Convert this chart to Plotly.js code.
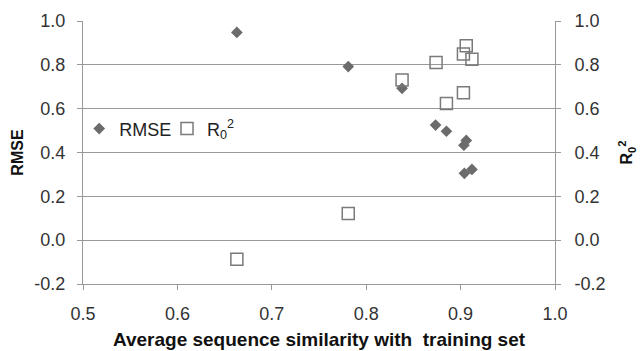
<!DOCTYPE html>
<html>
<head>
<meta charset="utf-8">
<script src="https://cdn.plot.ly/plotly-3.0.1.min.js"></script>
<style>html,body{margin:0;padding:0;background:#fff;}#chart{width:640px;height:351px;}</style>
</head>
<body>
<div id="chart"></div>
<script>
const similarity = [0.663, 0.781, 0.838, 0.8735, 0.885, 0.906, 0.9035, 0.904, 0.912];
const rmse = [0.948, 0.792, 0.693, 0.525, 0.497, 0.455, 0.433, 0.305, 0.323];
const similarityR0 = [0.663, 0.781, 0.838, 0.874, 0.885, 0.903, 0.906, 0.903, 0.912];
const r0sq = [-0.087, 0.122, 0.731, 0.811, 0.624, 0.673, 0.887, 0.849, 0.825];
const yTicks = [-0.2, 0.0, 0.2, 0.4, 0.6, 0.8, 1.0];
const xTicks = [0.5, 0.6, 0.7, 0.8, 0.9, 1.0];

const fam = 'Liberation Sans, Arial, sans-serif';
const tickFont = {family: fam, size: 18, color: '#333333'};
const gray = '#999999';

const traces = [
  {x: similarity, y: rmse, name: 'RMSE', type: 'scatter', mode: 'markers',
   marker: {symbol: 'diamond', size: 9, color: '#6b6b6b'}, yaxis: 'y', legend: 'legend'},
  {x: similarityR0, y: r0sq, name: 'R<sub>0</sub><sup>2</sup>', type: 'scatter', mode: 'markers',
   marker: {symbol: 'square-open', size: 12, color: '#7a7a7a', line: {width: 1.5}}, yaxis: 'y2', legend: 'legend2'}
];

const legendBase = {orientation: 'h', y: 0.59, xanchor: 'left', yanchor: 'middle',
  bgcolor: 'rgba(0,0,0,0)', font: {family: fam, size: 18, color: '#222222'}};

const layout = {
  width: 640, height: 351,
  margin: {l: 83, r: 85, t: 21, b: 67},
  paper_bgcolor: '#fff', plot_bgcolor: '#fff',
  font: {family: fam, size: 18, color: '#222222'},
  showlegend: true,
  legend: Object.assign({x: -0.008}, legendBase),
  legend2: Object.assign({x: 0.178}, legendBase),
  xaxis: {range: [0.5, 1.0], tickvals: xTicks, ticktext: xTicks.map(v => v.toFixed(1)),
          showgrid: false, zeroline: false, showline: true, linecolor: gray, linewidth: 1,
          ticks: 'outside', ticklen: 5, tickcolor: gray, tickfont: tickFont, ticklabelstandoff: 8,
          title: {text: '<b>Average sequence similarity with  training set</b>', font: {family: fam, size: 19, color: '#111111'}, standoff: 10}},
  yaxis: {range: [-0.2, 1.0], tickvals: yTicks, ticktext: yTicks.map(v => v.toFixed(1)),
          showgrid: true, gridcolor: gray, gridwidth: 1, zeroline: false,
          showline: true, linecolor: gray, linewidth: 1,
          ticks: 'outside', ticklen: 5, tickcolor: gray, tickfont: tickFont, ticklabelstandoff: 8,
          title: {text: '<b>RMSE</b>', font: {family: fam, size: 16, color: '#111111'}, standoff: 6}},
  yaxis2: {range: [-0.2, 1.0], tickvals: yTicks, ticktext: yTicks.map(v => v.toFixed(1)),
           overlaying: 'y', side: 'right', showgrid: false, zeroline: false,
           showline: true, linecolor: gray, linewidth: 1,
           ticks: 'outside', ticklen: 5, tickcolor: gray, tickfont: tickFont, ticklabelstandoff: 10,
           title: {text: '<b>R<sub>0</sub><sup>2</sup></b>', font: {family: fam, size: 16, color: '#111111'}, standoff: 16}}
};

Plotly.newPlot('chart', traces, layout, {displayModeBar: false, staticPlot: true});
</script>
</body>
</html>
